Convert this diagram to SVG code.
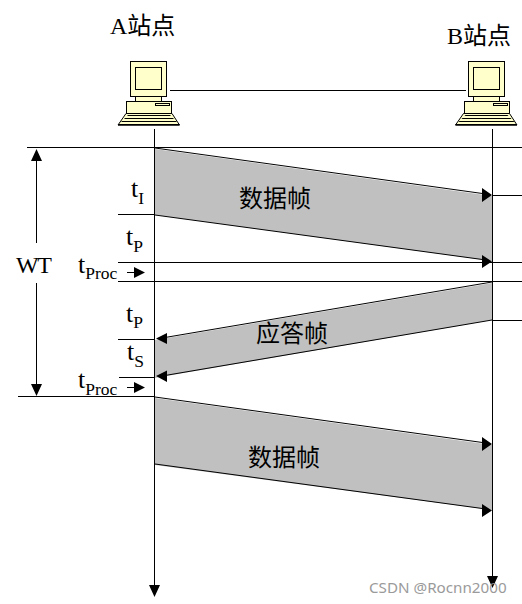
<svg xmlns="http://www.w3.org/2000/svg" width="522" height="604" viewBox="0 0 522 604">
<style>
.l{stroke:#000;stroke-width:1;fill:none;shape-rendering:crispEdges}
.s{stroke:#000;stroke-width:1;fill:none}
.t{font-family:"Liberation Serif","Noto Sans CJK SC",serif;font-size:24px;fill:#000}
.m{font-family:"Liberation Serif",serif;font-size:26px;fill:#000}
.sub{font-size:17.500px}
.band{fill:#c0c0c0}
.pc{fill:#ffffcc;stroke:#000;stroke-width:1;shape-rendering:crispEdges}
.k{fill:#000;stroke:none}
</style>
<defs>
<g id="pc">
<rect class="pc" x="40.500" y="61.500" width="36" height="35"/>
<rect class="pc" x="45.500" y="67.500" width="26" height="22"/>
<rect class="pc" x="45.500" y="96.500" width="26" height="5"/>
<rect class="pc" x="36.500" y="101.500" width="45" height="12"/>
<rect class="pc" x="65.500" y="103.500" width="14" height="2"/>
<path class="pc" d="M36 113.500H82L89.500 125H28Z" style="shape-rendering:auto"/>
<path class="k" d="M38 115H80L81 116H37ZM35 118H83L84 119H34ZM32 121H86L87 122H31Z"/>
<rect class="k" x="28" y="124" width="61.500" height="1.500"/>
</g>
</defs>
<g id="bands">
<polygon class="band" points="155,149 492,196 492,261 155,215"/>
<polygon class="band" points="155,340 492,283 492,320 155,378"/>
<polygon class="band" points="155,398 492,445 492,510 155,465"/>
</g>
<g id="connectors">
<path class="l" d="M170 90.500H466"/>
<path class="l" d="M154.500 129V587"/>
<path class="l" d="M492.500 129V580"/>
<path class="l" d="M27 147.500H522M118 214.500H155M118 262.500H522M118 281.500H522M118 339.500H155M119 377.500H155M18 396.500H155M492 195.500H522M492 320.500H522"/>
<path class="s" d="M155 148L486 194M155 215L486 260M492 282L162 338M492 320L162 376M155 397L486 443M155 464L486 509"/>
<path class="l" d="M36.500 158V243M36.500 283V388"/>
<path class="l" d="M127 272.500H138M127 387.500H138"/>
<path class="k" d="M36.500 149L42 161H31ZM36.500 396L31 384H42ZM145 272.500L134 267V278ZM145 387.500L134 382V393ZM156 338.500L167 333V344ZM156 376L167 370.500V382ZM492 195L482 188V202ZM492 261.500L482 255V268ZM492 444L482 437V451ZM492 510.500L482 504V517ZM492.500 588L487 576H498ZM154.500 597L149 585H160Z"/>
</g>
<g id="node-a"><use href="#pc" transform="translate(90 0)"/><text class="t" x="110" y="34">A站点</text></g>
<g id="node-b"><use href="#pc" transform="translate(427.500 0)"/><text class="t" x="447" y="44">B站点</text></g>
<g id="labels">
<text class="t" x="16" y="273" letter-spacing="-1.300">WT</text>
<text class="m" x="131" y="197">t<tspan class="sub" dy="7">I</tspan></text>
<text class="m" x="126" y="245">t<tspan class="sub" dy="6.500">P</tspan></text>
<text class="m" x="78" y="273">t<tspan class="sub" dy="6">Proc</tspan></text>
<text class="m" x="126" y="322">t<tspan class="sub" dy="6">P</tspan></text>
<text class="m" x="127" y="360">t<tspan class="sub" dy="6.500">S</tspan></text>
<text class="m" x="78" y="388">t<tspan class="sub" dy="7">Proc</tspan></text>
<text class="t" x="239" y="207">数据帧</text>
<text class="t" x="256" y="342">应答帧</text>
<text class="t" x="248" y="466">数据帧</text>
<text x="369" y="593" font-family="Noto Sans,sans-serif" font-size="15.200" fill="#909090" opacity="0.9">CSDN @Rocnn2000</text>
</g>
</svg>
